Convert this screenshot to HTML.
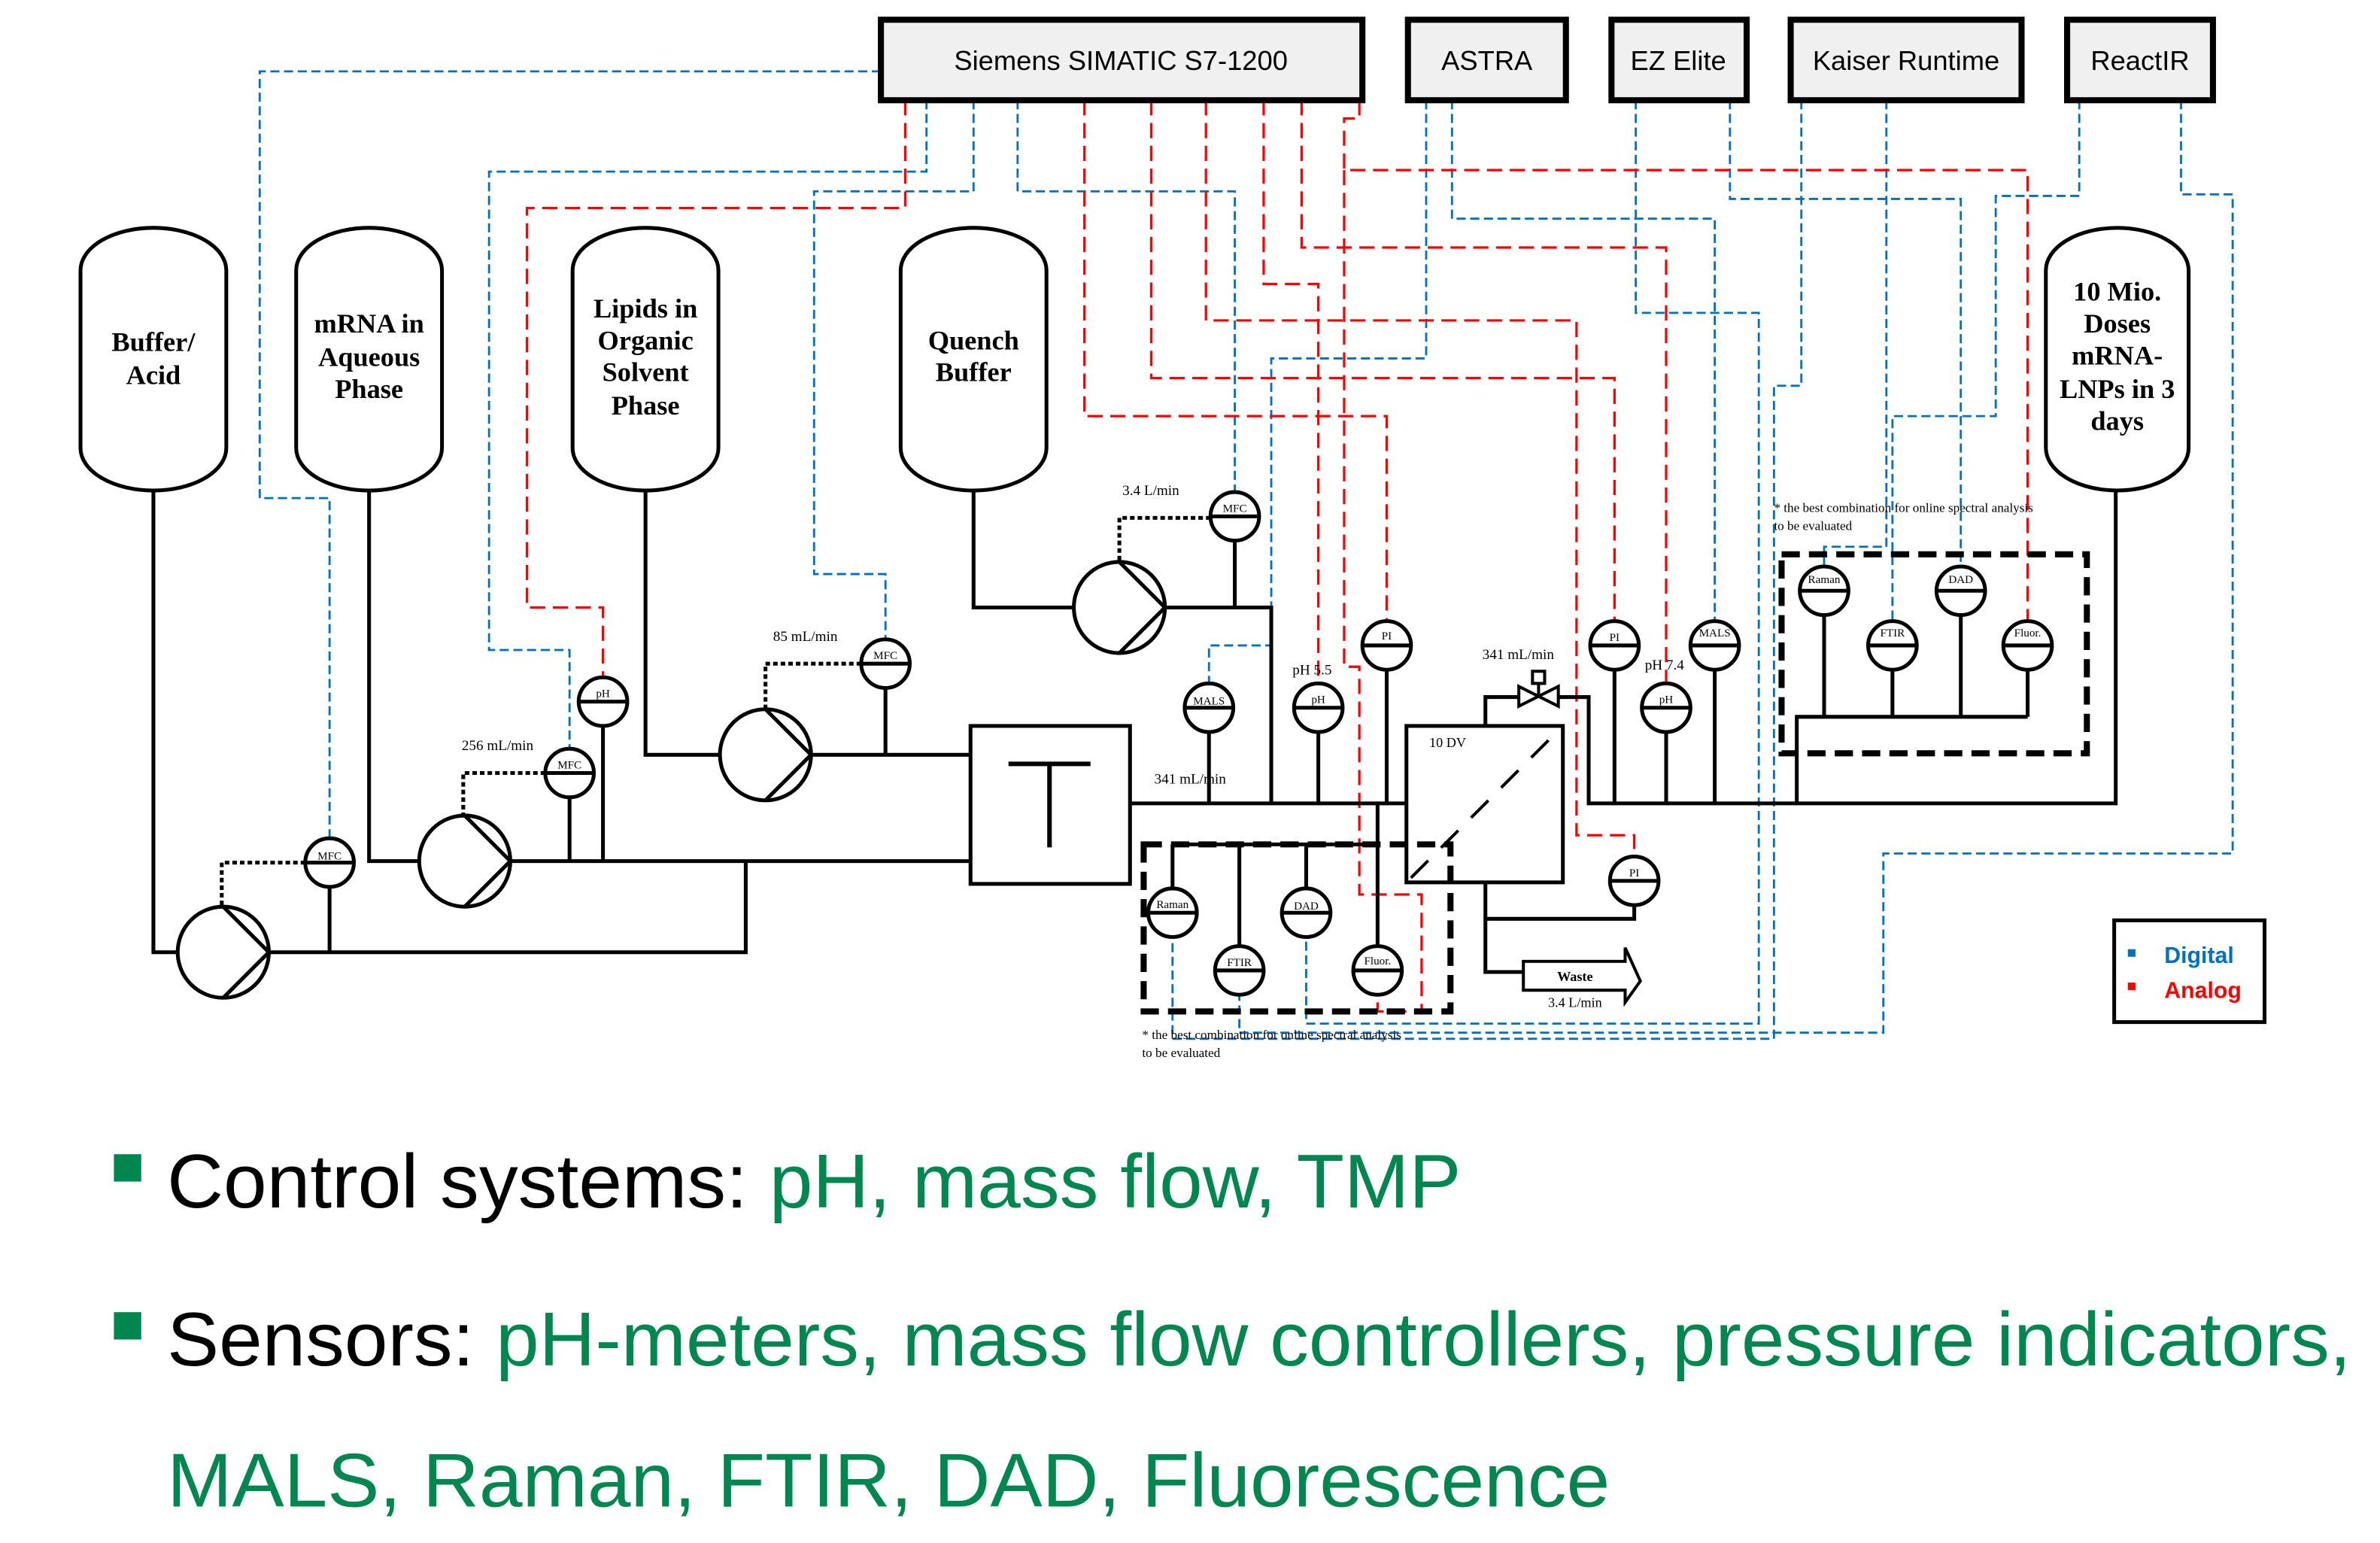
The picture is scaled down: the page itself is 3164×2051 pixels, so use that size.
<!DOCTYPE html>
<html><head><meta charset="utf-8"><style>
html,body{margin:0;padding:0;background:#fff;}
svg{display:block;}
</style></head><body>
<svg width="3164" height="2051" viewBox="0 0 1567 1016" preserveAspectRatio="none" xmlns="http://www.w3.org/2000/svg">
<defs>
<g id="pump"><circle r="30" fill="none" stroke="#000" stroke-width="2.5"/><path d="M0,-30 L30,0 L0,30" fill="none" stroke="#000" stroke-width="2.5"/></g>
</defs>
<rect width="1567" height="1016" fill="#fff"/>

<g fill="none" stroke="#0070c0" stroke-width="1.4" stroke-dasharray="6,3">
<path d="M580,47 H171 V328 H217 V552"/>
<path d="M610,66 V113 H322 V428 H375 V493"/>
<path d="M641,66 V126 H536 V378 H583 V421"/>
<path d="M670,66 V126 H813 V324"/>
<path d="M939,66 V236 H837 V425 H796 V450"/>
<path d="M956,66 V144 H1129 V409"/>
<path d="M1077,66 V206 H1158 V674 H860 V617"/>
<path d="M1139,66 V131 H1291 V373"/>
<path d="M1186,66 V254 H1168 V684 H772 V617"/>
<path d="M1242,66 V360 H1201 V373"/>
<path d="M1369,66 V129 H1314 V274 H1246 V409"/>
<path d="M1436,66 V128 H1470 V562 H1240 V680 H816 V655"/>
</g>
<g fill="none" stroke="#ff0000" stroke-width="1.6" stroke-dasharray="10,5">
<path d="M596,66 V137 H347 V400 H397 V446"/>
<path d="M714,66 V274 H913 V409"/>
<path d="M758,66 V249 H1063 V409"/>
<path d="M794,66 V211 H1038 V550 H1076 V564"/>
<path d="M832,66 V187 H868 V450"/>
<path d="M857,66 V163 H1097 V450"/>
<path d="M895,66 V78 H885 V112 H1335 V409"/>
<path d="M885,112 V439 H895 V589 H936 V666 H907 V655"/>
</g>

<g stroke="#000" stroke-width="4" fill="#f0f0f0">
<rect x="580" y="13" width="317" height="53"/>
<rect x="927" y="13" width="104" height="53"/>
<rect x="1061" y="13" width="89" height="53"/>
<rect x="1179" y="13" width="152" height="53"/>
<rect x="1361" y="13" width="96" height="53"/>
</g>
<g font-family="Liberation Sans, sans-serif" font-size="18" text-anchor="middle" fill="#000">
<text x="738" y="46">Siemens SIMATIC S7-1200</text>
<text x="979" y="46">ASTRA</text>
<text x="1105" y="46">EZ Elite</text>
<text x="1255" y="46">Kaiser Runtime</text>
<text x="1409" y="46">ReactIR</text>
</g>

<g fill="#fff" stroke="#000" stroke-width="2.5">
<path d="M53,178 A48,28 0 0 1 149,178 V295 A48,28 0 0 1 53,295 Z"/>
<path d="M195,178 A48,28 0 0 1 291,178 V295 A48,28 0 0 1 195,295 Z"/>
<path d="M377,178 A48,28 0 0 1 473,178 V295 A48,28 0 0 1 377,295 Z"/>
<path d="M593,178 A48,28 0 0 1 689,178 V295 A48,28 0 0 1 593,295 Z"/>
<path d="M1347,178 A47,28 0 0 1 1441,178 V295 A47,28 0 0 1 1347,295 Z"/>
</g>
<g font-family="Liberation Serif, serif" font-weight="bold" font-size="18" text-anchor="middle">
<text x="101" y="231">Buffer/</text><text x="101" y="253">Acid</text>
<text x="243" y="219">mRNA in</text><text x="243" y="241">Aqueous</text><text x="243" y="262">Phase</text>
<text x="425" y="209">Lipids in</text><text x="425" y="230">Organic</text><text x="425" y="251">Solvent</text><text x="425" y="273">Phase</text>
<text x="641" y="230">Quench</text><text x="641" y="251">Buffer</text>
<text x="1394" y="198">10 Mio.</text><text x="1394" y="219">Doses</text><text x="1394" y="240">mRNA-</text><text x="1394" y="262">LNPs in 3</text><text x="1394" y="283">days</text>
</g>

<g fill="none" stroke="#000" stroke-width="2.5">
<path d="M101,323 V627 H117"/>
<path d="M177,627 H491 V567"/>
<path d="M243,323 V567 H276"/>
<path d="M336,567 H639"/>
<path d="M425,323 V497 H474"/>
<path d="M534,497 H639"/>
<path d="M641,323 V400 H707"/>
<path d="M767,400 H837 V529"/>
<path d="M744,529 H926"/>
<path d="M217,584 V627"/><path d="M375,525 V567"/><path d="M397,478 V567"/>
<path d="M583,453 V497"/><path d="M813,356 V400"/>
<path d="M796,482 V529"/><path d="M868,482 V529"/><path d="M913,441 V529"/>
<path d="M907,529 V623"/>
<path d="M772,556 H907"/>
<path d="M772,556 V585"/><path d="M816,556 V623"/><path d="M860,556 V585"/>
<path d="M978,581 V640 H1003"/>
<path d="M978,605 H1076 V596"/>
<path d="M978,477 V459 H1000"/>
<path d="M1026,459 H1046 V529 H1393 V322"/>
<path d="M1063,441 V529"/><path d="M1097,482 V529"/><path d="M1129,441 V529"/>
<path d="M1183,529 V472 H1335"/>
<path d="M1201,405 V472"/><path d="M1246,441 V472"/><path d="M1291,405 V472"/><path d="M1335,441 V472"/>
</g>
<rect x="639" y="478" width="105" height="104" fill="#fff" stroke="#000" stroke-width="2.5"/>
<path d="M664,503 H718 M691,503 V558" stroke="#000" stroke-width="3"/>
<rect x="926" y="478" width="103" height="103" fill="#fff" stroke="#000" stroke-width="2.5"/>
<path d="M929,578 L1026,481" stroke="#000" stroke-width="2" stroke-dasharray="16,12"/>
<text x="941" y="492" font-family="Liberation Serif, serif" font-size="9">10 DV</text>
<path d="M1000,452 L1026,465 L1026,452 L1000,465 Z" fill="#fff" stroke="#000" stroke-width="2"/>
<path d="M1013,458 V450" stroke="#000" stroke-width="2"/>
<rect x="1009" y="442" width="8" height="8" fill="#fff" stroke="#000" stroke-width="2"/>
<path d="M1003,633 H1070 V624 L1080,646 L1070,660 V652 H1003 Z" fill="#fff" stroke="#000" stroke-width="2"/>
<g font-family="Liberation Serif, serif" text-anchor="middle">
<text x="1037" y="646" font-size="9" font-weight="bold">Waste</text>
<text x="1037" y="663" font-size="9">3.4 L/min</text>
</g>

<use href="#pump" x="147" y="627"/>
<use href="#pump" x="306" y="567"/>
<use href="#pump" x="504" y="497"/>
<use href="#pump" x="737" y="400"/>
<g fill="none" stroke="#000" stroke-width="2.5" stroke-dasharray="3,2">
<path d="M201,568 H146 V597"/>
<path d="M359,509 H305 V537"/>
<path d="M567,437 H504 V467"/>
<path d="M797,341 H737 V370"/>
</g>

<g fill="#fff" stroke="#000" stroke-width="2.5">
<circle cx="217" cy="568" r="16"/><circle cx="375" cy="509" r="16"/><circle cx="397" cy="462" r="16"/>
<circle cx="583" cy="437" r="16"/><circle cx="813" cy="340" r="16"/>
<circle cx="796" cy="466" r="16"/><circle cx="868" cy="466" r="16"/><circle cx="913" cy="425" r="16"/>
<circle cx="772" cy="601" r="16"/><circle cx="816" cy="639" r="16"/><circle cx="860" cy="601" r="16"/><circle cx="907" cy="639" r="16"/>
<circle cx="1076" cy="580" r="16"/>
<circle cx="1063" cy="425" r="16"/><circle cx="1097" cy="466" r="16"/><circle cx="1129" cy="425" r="16"/>
<circle cx="1201" cy="389" r="16"/><circle cx="1246" cy="425" r="16"/><circle cx="1291" cy="389" r="16"/><circle cx="1335" cy="425" r="16"/>
</g>
<g stroke="#000" stroke-width="2.5">
<path d="M201,568h32M359,509h32M381,462h32M567,437h32M797,340h32M780,466h32M852,466h32M897,425h32M756,601h32M800,639h32M844,601h32M891,639h32M1060,580h32M1047,425h32M1081,466h32M1113,425h32M1185,389h32M1230,425h32M1275,389h32M1319,425h32"/>
</g>
<g font-family="Liberation Serif, serif" font-size="7.5" text-anchor="middle">
<text x="217" y="566">MFC</text><text x="375" y="506">MFC</text><text x="397" y="459">pH</text>
<text x="583" y="434">MFC</text><text x="813" y="337">MFC</text>
<text x="796" y="464">MALS</text><text x="868" y="463">pH</text><text x="913" y="421">PI</text>
<text x="772" y="598">Raman</text><text x="816" y="636">FTIR</text><text x="860" y="599">DAD</text><text x="907" y="635">Fluor.</text>
<text x="1076" y="577">PI</text>
<text x="1063" y="422">PI</text><text x="1097" y="463">pH</text><text x="1129" y="419">MALS</text>
<text x="1201" y="384">Raman</text><text x="1246" y="419">FTIR</text><text x="1291" y="384">DAD</text><text x="1335" y="419">Fluor.</text>
</g>
<g font-family="Liberation Serif, serif" font-size="9.5">
<text x="304" y="494">256 mL/min</text>
<text x="509" y="422">85 mL/min</text>
<text x="739" y="326">3.4 L/min</text>
<text x="760" y="516">341 mL/min</text>
<text x="851" y="444">pH 5.5</text>
<text x="976" y="434">341 mL/min</text>
<text x="1083" y="441">pH 7.4</text>
<text x="1168" y="337" font-size="8.5">* the best combination for online spectral analysis</text>
<text x="1168" y="349" font-size="8.5">to be evaluated</text>
<text x="752" y="684" font-size="8.5">* the best combination for online spectral analysis</text>
<text x="752" y="696" font-size="8.5">to be evaluated</text>
</g>
<g fill="none" stroke="#000" stroke-width="4" stroke-dasharray="12,6">
<rect x="753" y="556" width="202" height="110"/>
<rect x="1173" y="365" width="201" height="131"/>
</g>

<rect x="1392" y="606" width="99" height="67" fill="#fff" stroke="#000" stroke-width="2.5"/>
<rect x="1401" y="625" width="5" height="5" fill="#0070c0"/>
<rect x="1401" y="647" width="5" height="5" fill="#ff0000"/>
<g font-family="Liberation Sans, sans-serif" font-weight="bold" font-size="15">
<text x="1425" y="634" fill="#0070c0">Digital</text>
<text x="1425" y="657" fill="#ff0000">Analog</text>
</g>

<rect x="75" y="760" width="18" height="18" fill="#00874f"/>
<rect x="75" y="864" width="18" height="18" fill="#00874f"/>
<g font-family="Liberation Sans, sans-serif" font-size="50">
<text x="110" y="795" textLength="852" lengthAdjust="spacingAndGlyphs"><tspan fill="#000">Control systems: </tspan><tspan fill="#00874f">pH, mass flow, TMP</tspan></text>
<text x="110" y="899" textLength="1438" lengthAdjust="spacingAndGlyphs"><tspan fill="#000">Sensors: </tspan><tspan fill="#00874f">pH-meters, mass flow controllers, pressure indicators,</tspan></text>
<text x="110" y="992" textLength="950" lengthAdjust="spacingAndGlyphs" fill="#00874f">MALS, Raman, FTIR, DAD, Fluorescence</text>
</g>
</svg>
</body></html>
